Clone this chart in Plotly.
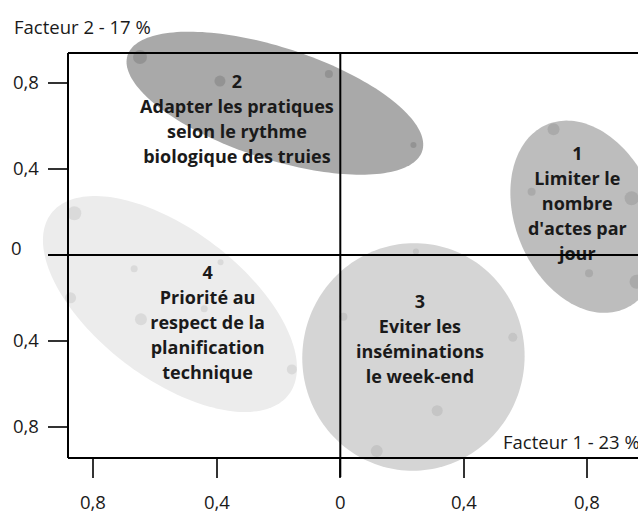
import numpy as np
import plotly.graph_objects as go

# ---------------- data ----------------
tick_vals = [-0.8, -0.4, 0.0, 0.4, 0.8]
tick_text = ["0,8", "0,4", "0", "0,4", "0,8"]

x_title = "Facteur 1 - 23 %"
y_title = "Facteur 2 - 17 %"

group_lines = [
    ["1", "Limiter le", "nombre", "d'actes par", "jour"],
    ["2", "Adapter les pratiques", "selon le rythme", "biologique des truies"],
    ["3", "Eviter les", "inséminations", "le week-end"],
    ["4", "Priorité au", "respect de la", "planification", "technique"],
]
label_x = [0.768, -0.335, 0.258, -0.430]
label_y = [0.473, 0.809, -0.214, -0.078]

g1_x = [0.691, 0.620, 0.944, 0.806, 0.960]
g1_y = [0.585, 0.294, 0.264, -0.085, -0.124]
g2_x = [-0.649, -0.390, -0.037, 0.237]
g2_y = [0.921, 0.809, 0.842, 0.512]
g3_x = [0.245, 0.010, 0.559, 0.314, 0.118]
g3_y = [0.016, -0.287, -0.383, -0.724, -0.912]
g4_x = [-0.862, -0.668, -0.388, -0.874, -0.441, -0.646, -0.157]
g4_y = [0.194, -0.064, -0.034, -0.199, -0.250, -0.299, -0.532]

# ellipse parameters (center in data units, semi-axes in x-units, screen tilt in degrees)
ell_cx = [0.795, -0.212, 0.237, -0.552]
ell_cy = [0.178, 0.706, -0.474, -0.228]
ell_a = [0.324, 0.502, 0.369, 0.484]
ell_b = [0.227, 0.181, 0.360, 0.240]
ell_angle = [67.3, 18.0, -80.0, 37.3]

# ---------------- styles ----------------
g1_size = [12, 8, 14, 8, 14]
g2_size = [14, 11, 8, 6]
g3_size = [6, 8, 9, 11, 12]
g4_size = [14, 7, 6, 11, 7, 12, 10]
ell_fill = ["#bdbdbd", "#a9a9a9", "#d5d5d5", "#ececec"]
pt_color = ["#a3a3a3", "#8a8a8a", "#bebebe", "#d3d3d3"]

W, H = 638, 511
ML, MR, MT, MB = 68, 0, 53, 53
PW, PH = W - ML - MR, H - MT - MB
x_range = [-0.8824, 0.9647]
y_range = [-0.944, 0.9395]
sx = PW / (x_range[1] - x_range[0])
sy = PH / (y_range[1] - y_range[0])

FONT = "Open Sans"
REG = 18.5
BOLD = 18
TXT = "#1a1a1a"
fig = go.Figure()


def to_px(x):  # data x -> paper fraction
    return (x - x_range[0]) / (x_range[1] - x_range[0])


def to_py(y):  # data y -> paper fraction
    return (y - y_range[0]) / (y_range[1] - y_range[0])


shapes = []
phi = np.linspace(0, 2 * np.pi, 181)
for cx, cy, a, b, ang, col in zip(ell_cx, ell_cy, ell_a, ell_b, ell_angle, ell_fill):
    t = np.deg2rad(ang)
    ap, bp = a * sx, b * sx
    dx = ap * np.cos(phi) * np.cos(t) - bp * np.sin(phi) * np.sin(t)
    dy = ap * np.cos(phi) * np.sin(t) + bp * np.sin(phi) * np.cos(t)
    xs = to_px(cx + dx / sx)
    ys = to_py(cy - dy / sy)
    path = "M " + " L ".join("%.5f,%.5f" % (u, v) for u, v in zip(xs, ys)) + " Z"
    shapes.append(dict(type="path", xref="paper", yref="paper", path=path,
                       fillcolor=col, line=dict(width=0), layer="below"))

for xs, ys, ss, col in [(g1_x, g1_y, g1_size, pt_color[0]), (g2_x, g2_y, g2_size, pt_color[1]),
                        (g3_x, g3_y, g3_size, pt_color[2]), (g4_x, g4_y, g4_size, pt_color[3])]:
    fig.add_trace(go.Scatter(x=xs, y=ys, mode="markers",
                             marker=dict(size=ss, color=col, line=dict(width=0)),
                             showlegend=False, cliponaxis=False, hoverinfo="skip"))

LINE_H = 25
TXT_SHIFT = 2.5
for lines, lx, ly in zip(group_lines, label_x, label_y):
    fig.add_trace(go.Scatter(
        x=[lx] * len(lines),
        y=[ly - (i * LINE_H + TXT_SHIFT) / sy for i in range(len(lines))],
        mode="text", text=["<b>%s</b>" % s for s in lines],
        textposition="middle center",
        textfont=dict(family=FONT, size=BOLD, color=TXT),
        showlegend=False, hoverinfo="skip", cliponaxis=False))

ann = []
for v, t in zip(tick_vals, tick_text):
    ann.append(dict(x=v, xref="x", y=(PH + MB - (H - 10)) / PH, yref="paper",
                    text=t, showarrow=False, xanchor="center", yanchor="middle",
                    font=dict(family=FONT, size=REG, color=TXT)))
    if v == 0:
        ann.append(dict(x=(9 - ML) / PW, xref="paper", y=v, yref="y", yshift=8,
                        text=t, showarrow=False, xanchor="left", yanchor="middle",
                        font=dict(family=FONT, size=REG, color=TXT)))
    else:
        ann.append(dict(x=(41 - ML) / PW, xref="paper", y=v, yref="y", yshift=2,
                        text=t, showarrow=False, xanchor="right", yanchor="middle",
                        font=dict(family=FONT, size=REG, color=TXT)))

ann.append(dict(x=(12 - ML) / PW, xref="paper", y=(PH + MT - 26) / PH, yref="paper",
                text=y_title, showarrow=False, xanchor="left", yanchor="middle",
                font=dict(family=FONT, size=REG, color=TXT)))
ann.append(dict(x=(642 - ML) / PW, xref="paper", y=(PH + MT - 441.7) / PH, yref="paper",
                text=x_title, showarrow=False, xanchor="right", yanchor="middle",
                font=dict(family=FONT, size=REG, color=TXT)))

lw = 2
shapes += [
    dict(type="line", xref="paper", yref="paper", x0=0, x1=1.02, y0=1, y1=1,
         line=dict(color="black", width=lw), layer="above"),
    dict(type="line", xref="paper", yref="paper", x0=0, x1=1.02, y0=0, y1=0,
         line=dict(color="black", width=lw), layer="above"),
    dict(type="line", xref="paper", yref="paper", x0=0, x1=0, y0=0, y1=1,
         line=dict(color="black", width=lw), layer="above"),
    dict(type="line", xref="paper", yref="paper", x0=-20 / PW, x1=1.02,
         y0=to_py(0), y1=to_py(0), line=dict(color="black", width=lw), layer="above"),
    dict(type="line", xref="paper", yref="paper", x0=to_px(0), x1=to_px(0), y0=-19 / PH, y1=1,
         line=dict(color="black", width=lw), layer="above"),
]

fig.update_layout(
    width=W, height=H, margin=dict(l=ML, r=MR, t=MT, b=MB),
    paper_bgcolor="white", plot_bgcolor="rgba(0,0,0,0)",
    annotations=ann, shapes=shapes, showlegend=False,
    xaxis=dict(range=x_range, tickvals=tick_vals, showticklabels=False, ticks="outside",
               ticklen=19, tickwidth=1.5, tickcolor="#333333", showgrid=False,
               zeroline=False, showline=False, fixedrange=True),
    yaxis=dict(range=y_range, tickvals=tick_vals, showticklabels=False, ticks="outside",
               ticklen=19, tickwidth=1.5, tickcolor="#333333", showgrid=False,
               zeroline=False, showline=False, fixedrange=True),
)

fig.write_html("out.html", config={"displayModeBar": False},
               post_script="document.body.style.margin='0px';document.body.style.overflow='hidden';")
